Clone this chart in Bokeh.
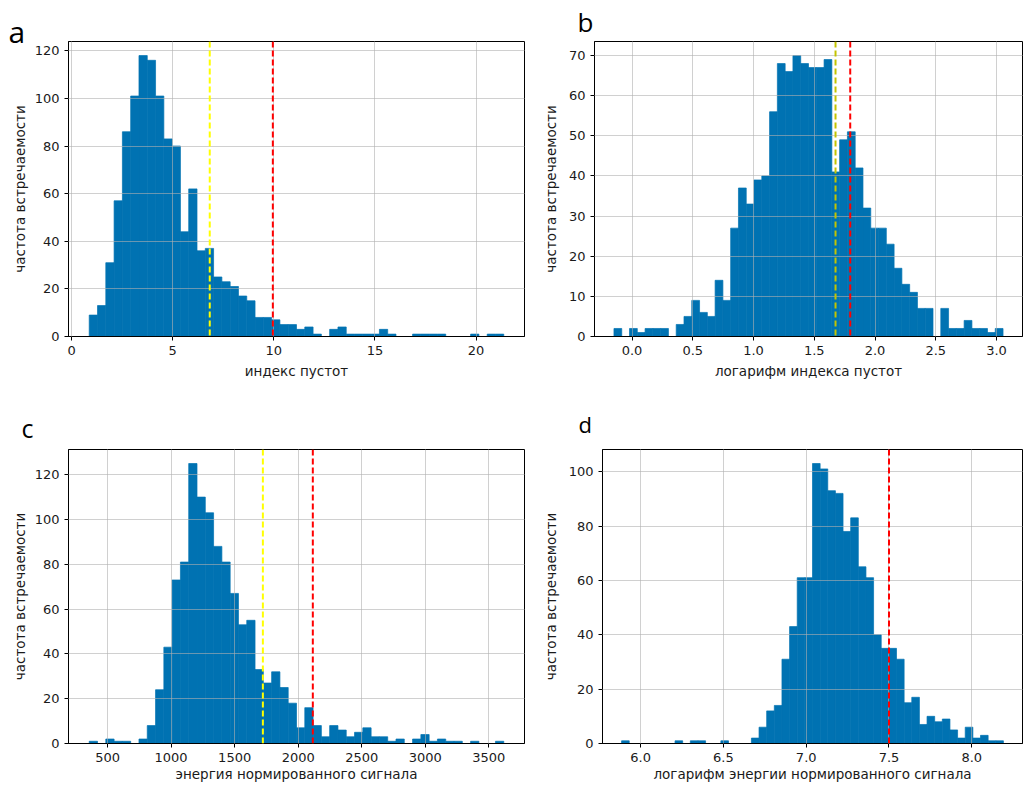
import numpy as np
from bokeh.plotting import figure
from bokeh.models import Range1d, FixedTicker, PrintfTickFormatter, Span, ColumnDataSource
from bokeh.layouts import column, row
from bokeh.embed import file_html
from bokeh.resources import INLINE

# ---------------- data ----------------
ylabel = "частота встречаемости"

# panel a: индекс пустот
a_counts = [9, 13, 31, 57, 86, 101, 118, 116, 101, 83, 80, 44, 62, 36, 37, 25, 23, 21, 17, 15,
            8, 8, 7, 5, 5, 3, 4, 1, 0, 3, 4, 1, 1, 1, 1, 3, 1, 0, 0, 1,
            1, 1, 1, 0, 0, 0, 1, 0, 1, 1]
a_edges = (0.87, 21.37)
a_xticks = [0, 5, 10, 15, 20]
a_yticks = [0, 20, 40, 60, 80, 100, 120]
a_lines = [6.83, 9.95]
a_line_colors = ["#ffff00", "#ff0000"]
a_xlabel = "индекс пустот"

# panel b: логарифм индекса пустот
b_counts = [2, 0, 2, 1, 2, 2, 2, 0, 3, 5, 9, 6, 5, 14, 9, 27, 37, 33, 39, 40,
            56, 68, 66, 70, 68, 67, 67, 69, 41, 49, 51, 42, 32, 27, 27, 23, 17, 13, 11, 7,
            7, 0, 7, 2, 2, 4, 2, 2, 1, 2]
b_edges = (-0.149, 3.054)
b_xticks = [0.0, 0.5, 1.0, 1.5, 2.0, 2.5, 3.0]
b_yticks = [0, 10, 20, 30, 40, 50, 60, 70]
b_lines = [1.675, 1.796]
b_line_colors = ["#c4c400", "#ff0000"]
b_xlabel = "логарифм индекса пустот"

# panel c: энергия нормированного сигнала
c_counts = [1, 0, 2, 1, 1, 0, 2, 8, 24, 43, 73, 81, 125, 110, 103, 88, 81, 67, 53, 55,
            33, 27, 32, 25, 18, 7, 16, 8, 3, 8, 6, 3, 5, 7, 3, 3, 1, 2, 0, 2,
            4, 1, 2, 1, 1, 0, 1, 0, 0, 1]
c_edges = (355.8, 3617.4)
c_xticks = [500, 1000, 1500, 2000, 2500, 3000, 3500]
c_yticks = [0, 20, 40, 60, 80, 100, 120]
c_lines = [1722, 2115]
c_line_colors = ["#ffff00", "#ff0000"]
c_xlabel = "энергия нормированного сигнала"

# panel d: логарифм энергии нормированного сигнала
d_counts = [1, 0, 0, 0, 0, 0, 0, 1, 0, 1, 1, 0, 0, 1, 0, 0, 0, 2, 6, 12,
            14, 31, 43, 61, 61, 103, 101, 93, 92, 78, 83, 65, 61, 40, 35, 35, 31, 15, 17, 7,
            10, 8, 9, 5, 2, 6, 2, 3, 1, 1]
d_edges = (5.885, 8.191)
d_xticks = [6.0, 6.5, 7.0, 7.5, 8.0]
d_yticks = [0, 20, 40, 60, 80, 100]
d_lines = [7.5]
d_line_colors = ["#ff0000"]
d_xlabel = "логарифм энергии нормированного сигнала"

BAR = "#0072B2"
FONT = "DejaVu Sans"


def panel(counts, edges, xticks, yticks, fmt, lines, line_colors, xlabel, letter,
          width, height, bl, br, bt, bb, letter_offset, letter_standoff, letter_size,
          ylab_standoff, xlab_standoff):
    counts = np.asarray(counts, dtype=float)
    e = np.linspace(edges[0], edges[1], len(counts) + 1)
    span = edges[1] - edges[0]
    xr = Range1d(edges[0] - 0.05 * span, edges[1] + 0.05 * span)
    yr = Range1d(0, counts.max() * 1.05)
    p = figure(width=width, height=height, x_range=xr, y_range=yr,
               output_backend="svg", toolbar_location=None,
               min_border_left=bl, min_border_right=br,
               min_border_top=bt, min_border_bottom=bb)
    src = ColumnDataSource(dict(left=e[:-1], right=e[1:], top=counts,
                                bottom=np.zeros_like(counts)))
    p.quad(left="left", right="right", top="top", bottom="bottom", source=src,
           fill_color=BAR, line_color=BAR, line_width=0.7)
    for g in (p.xgrid, p.ygrid):
        g.grid_line_color = "#b0b0b0"
        g.grid_line_alpha = 0.6
        g.grid_line_width = 1
        g.level = "annotation"
    for loc, col in zip(lines, line_colors):
        p.add_layout(Span(location=loc, dimension="height", line_color=col,
                          line_width=2, line_dash="6 3"))
    p.xaxis.ticker = FixedTicker(ticks=xticks)
    p.yaxis.ticker = FixedTicker(ticks=yticks)
    if fmt:
        p.xaxis.formatter = PrintfTickFormatter(format=fmt)
    p.xaxis.axis_label = xlabel
    p.yaxis.axis_label = ylabel
    for ax in (p.xaxis[0], p.yaxis[0]):
        ax.axis_line_color = "black"
        ax.major_tick_line_color = "black"
        ax.major_tick_out = 4
        ax.major_tick_in = 0
        ax.minor_tick_line_color = None
        ax.major_label_text_font = FONT
        ax.major_label_text_font_size = "13px"
        ax.major_label_text_color = "#1a1a1a"
        ax.axis_label_text_font = FONT
        ax.axis_label_text_font_size = "13.5px"
        ax.axis_label_text_font_style = "normal"
        ax.axis_label_text_color = "#1a1a1a"
        ax.major_label_standoff = 5
    p.xaxis.axis_label_standoff = xlab_standoff
    p.yaxis.axis_label_standoff = ylab_standoff
    p.outline_line_color = "black"
    p.outline_line_alpha = 1
    p.outline_line_width = 1
    p.background_fill_color = "white"
    p.border_fill_color = "white"
    # panel letter as the figure title
    p.title.text = letter
    p.title.text_font = "Open Sans"
    p.title.text_font_size = letter_size
    p.title.text_font_style = "normal"
    p.title.text_color = "black"
    p.title.align = "left"
    p.title.offset = letter_offset
    p.title.standoff = letter_standoff
    return p


pa = panel(a_counts, a_edges, a_xticks, a_yticks, None, a_lines, a_line_colors, a_xlabel, "a",
           539, 394, 68, 15, 40, 58, -60, -20, "30px", 4, 5)
pb = panel(b_counts, b_edges, b_xticks, b_yticks, "%.1f", b_lines, b_line_colors, b_xlabel, "b",
           485, 394, 48, 2, 40, 58, -17, 3, "26px", 7, 5)
pc = panel(c_counts, c_edges, c_xticks, c_yticks, None, c_lines, c_line_colors, c_xlabel, "c",
           539, 391, 68, 15, 55, 42, -47, 9, "25px", 4, 1)
pd_ = panel(d_counts, d_edges, d_xticks, d_yticks, "%.1f", d_lines, d_line_colors, d_xlabel, "d",
            485, 391, 48, 2, 54, 42, -24, 21, "22px", 7, 1)

layout = column(row(pa, pb), row(pc, pd_))
open("out.html", "w").write(file_html(layout, INLINE))
